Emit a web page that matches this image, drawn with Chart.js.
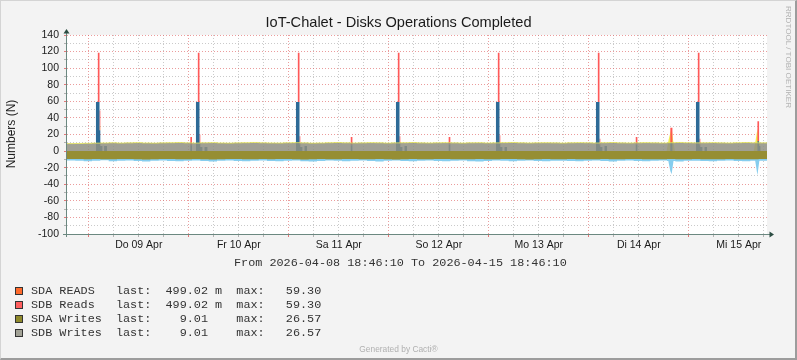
<!DOCTYPE html>
<html><head><meta charset="utf-8"><title>IoT-Chalet - Disks Operations Completed</title>
<script src="https://cdn.jsdelivr.net/npm/chart.js@4/dist/chart.umd.min.js"></script>
<style>
 html,body{margin:0;padding:0;background:#f3f3f3;overflow:hidden}
 #wrap{position:relative;width:797px;height:360px;background:#f3f3f3;overflow:hidden}
 #c{position:absolute;left:0;top:0}
 .txt{position:absolute;white-space:pre;margin:0}
 #title{left:0;top:14px;width:797px;text-align:center;font:14.6px/16px "Liberation Sans",Arial,sans-serif;color:#1a1a1a}
 #ytitle{left:-49px;top:127px;width:120px;height:14px;text-align:center;font:12px/14px "Liberation Sans",Arial,sans-serif;color:#1a1a1a;transform:rotate(-90deg)}
 #range{left:234px;top:255.5px;font:11.8px/14px "Liberation Mono",monospace;color:#333}
 .row{position:absolute;left:0;width:400px;height:14px}
 .box{position:absolute;left:15px;top:3px;width:6px;height:6px;border:1px solid #333}
 .lbl{position:absolute;left:31px;top:0;font:11.8px/14px "Liberation Mono",monospace;color:#333;white-space:pre}
 #rrd{left:733px;top:51.5px;width:110px;height:10px;text-align:center;font:8.1px/10px "Liberation Sans",Arial,sans-serif;color:#b0b0b0;transform:rotate(90deg)}
 #gen{left:0;top:344px;width:797px;text-align:center;font:8.4px/10px "Liberation Sans",Arial,sans-serif;color:#b0b0b0}
 #frame{position:absolute;left:0;top:0;width:797px;height:360px;box-sizing:border-box;border-top:1px solid #d4d4d4;border-left:1px solid #d4d4d4;border-right:2px solid #9c9c9c;border-bottom:2px solid #9c9c9c;pointer-events:none}
</style>
</head><body>
<div id="wrap">
 <canvas id="c" width="797" height="360"></canvas>
 <div id="title" class="txt">IoT-Chalet - Disks Operations Completed</div>
 <div id="ytitle" class="txt">Numbers (N)</div>
 <div id="range" class="txt">From 2026-04-08 18:46:10 To 2026-04-15 18:46:10</div>
 <div id="legend"></div>
 <div id="rrd" class="txt">RRDTOOL / TOBI OETIKER</div>
 <div id="gen" class="txt">Generated by Cacti®</div>
 <div id="frame"></div>
</div>
<script>
// ---------- data ----------
const xSpanHours = 168;               // 2026-04-08 18:46:10 .. 2026-04-15 18:46:10
const firstMidnightHour = 5 + 13/60 + 50/3600;
const gridStepHours = 6;
const bandStepHours = 2;
const dayLabels = ["Do 09 Apr","Fr 10 Apr","Sa 11 Apr","So 12 Apr","Mo 13 Apr","Di 14 Apr","Mi 15 Apr"];
const yMin = -100, yMax = 140, yStep = 10, yLabelStep = 20;

// SDB Writes (grey, upper band)
const sdbWrites = [9.0,9.2,9.4,9.6,9.8,10.0,9.7,9.9,10.2,9.8,9.6,9.9,
 10.1,10.3,9.9,9.7,10.0,10.2,9.8,9.6,9.9,10.1,10.4,10.0,
 9.8,9.7,10.0,10.2,9.9,9.6,9.8,10.1,10.3,10.0,9.8,9.9,
 10.2,10.0,9.7,9.9,10.1,10.3,9.9,9.8,10.0,10.2,9.9,9.7,
 10.0,10.1,9.8,9.9,10.2,10.4,10.0,9.8,10.0,10.1,9.9,9.7,
 10.0,10.2,10.0,9.8,10.1,10.3,9.9,9.8,10.0,10.2,10.0,9.8,
 10.1,10.4,10.1,9.9,10.0,10.2,9.9,9.8,10.1,10.3,10.0,9.9,10.0];
// SDA Writes (olive, lower band)
const sdaWrites = [-9.4,-9.6,-9.8,-9.5,-9.7,-9.9,-9.6,-9.4,-9.8,-10.0,-9.7,-9.5,
 -9.6,-9.8,-9.9,-9.5,-9.7,-10.0,-9.8,-9.6,-9.5,-9.7,-9.9,-9.6,
 -9.8,-9.6,-9.5,-9.7,-10.0,-9.8,-9.6,-9.7,-9.9,-9.5,-9.6,-9.8,
 -9.7,-9.5,-9.8,-10.0,-9.7,-9.6,-9.8,-9.9,-9.6,-9.5,-9.7,-9.9,
 -9.8,-9.6,-9.7,-9.9,-9.6,-9.5,-9.8,-10.0,-9.7,-9.6,-9.8,-9.7,
 -9.5,-9.7,-9.9,-9.8,-9.6,-9.7,-9.9,-9.6,-9.5,-9.8,-9.9,-9.7,
 -9.6,-9.8,-9.7,-9.5,-9.7,-9.9,-9.8,-9.6,-9.7,-9.9,-9.8,-9.6,-9.7];
// light blue edge below the lower band
const lowerEdge = [-11.4,-11.8,-12.2,-11.6,-11.2,-12.4,-11.8,-11.5,-12.0,-12.6,-11.7,-11.3,
 -11.9,-12.3,-11.6,-11.4,-12.1,-12.5,-11.8,-11.5,-11.9,-12.2,-11.6,-11.3,
 -12.0,-12.4,-11.7,-11.5,-12.2,-12.6,-11.9,-11.4,-11.8,-12.3,-11.6,-11.4,
 -12.1,-12.5,-11.8,-11.5,-11.9,-12.4,-11.7,-11.3,-12.0,-12.3,-11.6,-11.5,
 -12.2,-12.6,-11.9,-11.4,-11.8,-12.2,-11.7,-11.5,-12.1,-12.4,-11.8,-11.6,
 -11.9,-12.3,-11.6,-11.4,-12.0,-12.5,-11.8,-11.5,-11.9,-12.2,-11.7,-11.4,
 -12.1,-12.5,-11.8,-11.6,-12.0,-12.3,-11.7,-11.5,-11.9,-12.4,-11.8,-11.6,-12.0];

// read bursts (hours since start; each value holds until the next time)
const readHours = [0,
 6.95,7.4,7.8,8.0,8.5,8.9,9.6,
 29.6,30.0,
 30.95,31.4,31.8,32.0,32.5,33.0,33.7,
 54.95,55.4,55.8,56.0,56.5,57.0,57.6,
 68.1,68.5,
 78.95,79.4,79.8,80.0,80.5,81.0,81.6,
 91.6,92.0,
 102.95,103.4,103.8,104.0,104.5,105.0,105.6,
 126.95,127.4,127.8,128.0,128.5,129.0,129.6,
 136.5,136.9,
 144.8,145.3,
 150.95,151.4,151.8,152.0,152.5,153.0,153.6,
 165.7,166.1,166.4,
 168];
const readBlue = [0,
 59.3,59.3,25,6,0,6,0,
 7,0,
 59.3,59.3,9,5,0,5,0,
 59.3,59.3,8,5,0,6,0,
 7,0,
 59.3,59.3,9,5,0,6,0,
 8,0,
 59.3,59.3,9,5,0,5,0,
 59.3,59.3,7,5,0,6,0,
 8,0,
 10,0,
 59.3,59.3,7,5,0,5,0,
 12,6,0,
 0];
const sdaReads = [0,
 0,0,6,0,0,0,0,
 0,0,
 0,0,3,0,0,0,0,
 0,0,3,0,0,0,0,
 0,0,
 0,0,3,0,0,0,0,
 0,0,
 0,0,3,0,0,0,0,
 0,0,2,0,0,0,0,
 0,0,
 0,0,
 0,0,2,0,0,0,0,
 0,0,0,
 0];
const sdbReads = [0,
 0,59.3,18,0,0,0,0,
 10,0,
 0,59.3,8,0,0,0,0,
 0,59.3,7,0,0,0,0,
 10,0,
 0,59.3,6,0,0,0,0,
 9,0,
 0,59.3,7,0,0,0,0,
 0,59.3,6,0,0,0,0,
 9,0,
 18,0,
 0,59.3,6,0,0,0,0,
 24,0,0,
 0];

// write bursts near Di 14 Apr and Mi 15 Apr
const burstHours = [0,143.9,144.4,144.8,145.1,145.5,145.9,164.8,165.3,165.7,166.1,166.5,168];
const burstUp    = [0,0,14,22,28,12,0,0,14,27,12,0,0];
const burstDown  = [0,0,-14,-24,-28,-14,0,0,-16,-29,-14,0,0];

// legend
const legendNames = ["SDA READS","SDB Reads","SDA Writes","SDB Writes"];
const legendLastNum = ["499.02","499.02","9.01","9.01"];
const legendLastUnit = ["m","m"," "," "];
const legendMax = ["59.30","59.30","26.57","26.57"];

// ---------- styles ----------
const legendColors = ["#FF6A2C","#FF5F5F","#8F8A2C","#A2A296"];
const majorGrid = "rgba(222,90,90,0.6)";
const minorGrid = "rgba(150,150,150,0.5)";

// ---------- legend html ----------
const lg = document.getElementById('legend');
legendNames.forEach((n, i) => {
  const row = document.createElement('div');
  row.className = 'row';
  row.style.top = (284 + 13.95 * i) + 'px';
  const b = document.createElement('div');
  b.className = 'box'; b.style.background = legendColors[i];
  const t = document.createElement('div');
  t.className = 'lbl';
  t.textContent = n.padEnd(12) + 'last:' + legendLastNum[i].padStart(8) + ' ' + legendLastUnit[i] + '  max:' + legendMax[i].padStart(8);
  row.appendChild(b); row.appendChild(t); lg.appendChild(row);
});

// ---------- chart ----------
const pts = (xs, ys) => xs.map((x, i) => ({x: x, y: ys[i]}));
const bandX = sdbWrites.map((_, i) => i * bandStepHours);
const STEP = 'before';   // value holds from its time until the next point

const bgPlugin = {
  id: 'plotBg',
  beforeDraw(chart) {
    const {ctx, chartArea: a} = chart;
    ctx.save();
    ctx.fillStyle = '#ffffff';
    ctx.fillRect(a.left, a.top, a.right - a.left, a.bottom - a.top);
    ctx.restore();
  },
  afterDraw(chart) {
    const {ctx, chartArea: a} = chart;
    ctx.save();
    ctx.strokeStyle = '#6b8880';
    ctx.lineWidth = 1;
    ctx.beginPath();
    ctx.moveTo(a.left - 0.5, a.bottom + 3);
    ctx.lineTo(a.left - 0.5, a.top - 5);
    ctx.moveTo(a.left - 4, a.bottom + 0.5);
    ctx.lineTo(a.right + 5, a.bottom + 0.5);
    ctx.stroke();
    ctx.fillStyle = '#2C4D43';
    ctx.beginPath();
    ctx.moveTo(a.left - 0.5, a.top - 6);
    ctx.lineTo(a.left - 3.5, a.top - 1.5);
    ctx.lineTo(a.left + 2.5, a.top - 1.5);
    ctx.closePath(); ctx.fill();
    ctx.beginPath();
    ctx.moveTo(a.right + 7, a.bottom + 0.5);
    ctx.lineTo(a.right + 2.5, a.bottom - 2.5);
    ctx.lineTo(a.right + 2.5, a.bottom + 3.5);
    ctx.closePath(); ctx.fill();
    ctx.restore();
  }
};

new Chart(document.getElementById('c'), {
  type: 'line',
  data: {
    datasets: [
      {label: 'SDB Writes', data: pts(bandX, sdbWrites), stack: 'w1', fill: 'origin',
       backgroundColor: 'rgba(143,143,131,0.85)', borderColor: 'rgba(236,234,80,0.75)', borderWidth: 1,
       stepped: STEP, order: 1},
      {label: 'SDA Writes', data: pts(bandX, sdaWrites), stack: 'w2', fill: 'origin',
       backgroundColor: '#968E33', borderWidth: 0, stepped: STEP, order: 2},
      {label: 'reads', data: pts(readHours, readBlue), stack: 'r', fill: 'origin',
       backgroundColor: '#2D6A96', borderWidth: 0, stepped: STEP, order: 3},
      {label: 'SDA READS', data: pts(readHours, sdaReads), stack: 'r', fill: '-1',
       backgroundColor: '#FF6A2C', borderWidth: 0, stepped: STEP, order: 4},
      {label: 'SDB Reads', data: pts(readHours, sdbReads), stack: 'r', fill: '-1',
       backgroundColor: 'rgba(255,80,80,0.95)', borderWidth: 0, stepped: STEP, order: 5},
      {label: 'burst up', data: pts(burstHours, burstUp), stack: 'b1', fill: 'origin',
       backgroundColor: 'rgba(240,234,60,0.9)', borderWidth: 0, order: 6},
      {label: 'lower edge', data: pts(bandX, lowerEdge), stack: 'e1', fill: 'origin',
       backgroundColor: '#86CDEE', borderWidth: 0, stepped: STEP, order: 7},
      {label: 'burst down', data: pts(burstHours, burstDown), stack: 'b2', fill: 'origin',
       backgroundColor: '#86CDEE', borderWidth: 0, order: 8}
    ]
  },
  options: {
    responsive: false, animation: false, devicePixelRatio: 1, events: [],
    layout: {padding: {left: 0, top: 35, right: 30, bottom: 100}},
    elements: {point: {radius: 0}, line: {tension: 0}},
    plugins: {legend: {display: false}, tooltip: {enabled: false}, title: {display: false}},
    scales: {
      x: {
        type: 'linear', min: 0, max: xSpanHours, offset: false,
        afterBuildTicks: (scale) => {
          const t = [];
          for (let h = firstMidnightHour; h <= xSpanHours; h += gridStepHours) t.push({value: h});
          scale.ticks = t;
        },
        afterFit: (s) => { s.height = 26; },
        ticks: {autoSkip: false, maxRotation: 0, padding: 2, color: '#1a1a1a',
          font: {family: 'Liberation Sans', size: 10.5},
          callback: (v, i) => (i % 4 === 2 ? dayLabels[(i - 2) / 4] : '')},
        grid: {color: (c) => (c.index % 4 === 0 ? majorGrid : minorGrid), lineWidth: 1,
          tickLength: 3, tickColor: (c) => (c.index % 4 === 0 ? 'rgba(222,90,90,0.8)' : 'rgba(150,150,150,0.7)'),
          tickBorderDash: []},
        border: {display: false, dash: [1, 2]}
      },
      y: {
        type: 'linear', min: yMin, max: yMax, stacked: true,
        afterFit: (s) => { s.width = 67; },
        ticks: {stepSize: yStep, autoSkip: false, padding: 5, color: '#1a1a1a',
          font: {family: 'Liberation Sans', size: 10.5},
          callback: (v) => (v % yLabelStep === 0 ? String(v) : '')},
        grid: {color: (c) => (c.tick && c.tick.value % yLabelStep === 0 ? majorGrid : minorGrid), lineWidth: 1,
          tickLength: 3, tickColor: (c) => (c.tick && c.tick.value % yLabelStep === 0 ? 'rgba(222,90,90,0.8)' : 'rgba(150,150,150,0.7)'),
          tickBorderDash: []},
        border: {display: false, dash: [1, 2]}
      }
    }
  },
  plugins: [bgPlugin]
});
</script>
</body></html>
